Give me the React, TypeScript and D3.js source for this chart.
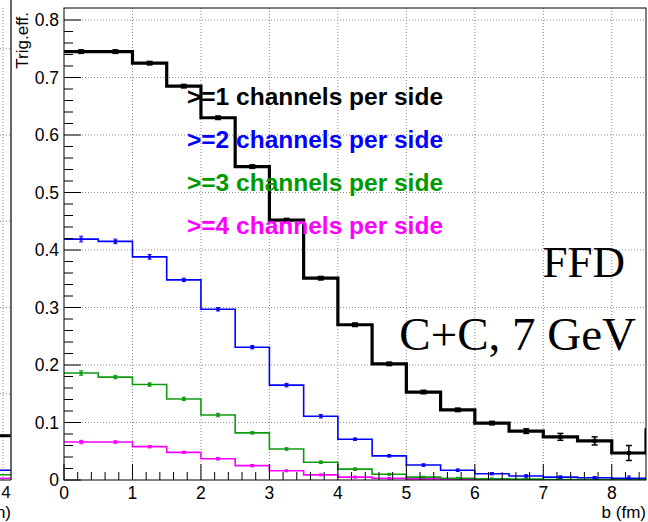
import React from 'react';
import * as d3 from 'd3';

// bin edges in b (fm), 0.5 fm bins
const binEdges = [0, 0.5, 1, 1.5, 2, 2.5, 3, 3.5, 4, 4.5, 5, 5.5, 6, 6.5, 7, 7.5, 8, 8.5];

// trigger efficiency per bin
const eff1 = [0.745, 0.745, 0.725, 0.685, 0.63, 0.545, 0.452, 0.351, 0.27, 0.202, 0.153, 0.122, 0.099, 0.085, 0.075, 0.068, 0.047];
const err1 = [0.003, 0.003, 0.003, 0.003, 0.003, 0.003, 0.003, 0.003, 0.003, 0.003, 0.003, 0.003, 0.003, 0.004, 0.006, 0.007, 0.013];
const eff2 = [0.419, 0.415, 0.388, 0.348, 0.297, 0.231, 0.165, 0.111, 0.071, 0.042, 0.026, 0.017, 0.011, 0.007, 0.005, 0.004, 0.003];
const err2 = [0.005, 0.004, 0.004, 0.003, 0.003, 0.003, 0.003, 0.003, 0.002, 0.002, 0.002, 0.002, 0.002, 0.002, 0.002, 0.002, 0.004];
const eff3 = [0.186, 0.179, 0.166, 0.141, 0.113, 0.082, 0.054, 0.031, 0.019, 0.01, 0.005, 0.003, 0.002, 0.0015, 0.001, 0.001, 0.001];
const err3 = [0.004, 0.003, 0.003, 0.003, 0.003, 0.002, 0.002, 0.002, 0.002, 0.001, 0.001, 0.001, 0.001, 0.001, 0.001, 0.001, 0.001];
const eff4 = [0.066, 0.066, 0.058, 0.048, 0.037, 0.025, 0.016, 0.009, 0.005, 0.003, 0.002, 0.001, 0.001, 0.0005, 0.0005, 0.0003, 0.0003];
const err4 = [0.003, 0.002, 0.002, 0.002, 0.002, 0.002, 0.001, 0.001, 0.001, 0.001, 0.001, 0.001, 0.001, 0.001, 0.001, 0.001, 0.002];
// value of the bin past the frame (only its rising edge shows)
const tail1 = 0.09;

const legendLabels = ['>=1 channels per side', '>=2 channels per side', '>=3 channels per side', '>=4 channels per side'];
const xTicks = [0, 1, 2, 3, 4, 5, 6, 7, 8];
const yTicks = [0, 0.1, 0.2, 0.3, 0.4, 0.5, 0.6, 0.7, 0.8];

// bits of the neighbouring panel, cut off at the left edge
const leftGrid = [0.15, 0.3, 0.45, 0.6, 0.75];
const leftLevels = [0.077, 0.017, 0.009, 0.003];

const W = 648;
const H = 522;
const left = 64, right = 646, top = 8, bottom = 480;
const sans = 'Liberation Sans, Arial, Helvetica, sans-serif';
const serif = 'Liberation Serif, Times New Roman, serif';

const x = d3.scaleLinear().domain([0, 8.5]).range([left, right]);
const y = d3.scaleLinear().domain([0, 0.8209]).range([bottom, top]);

const series = [
  { vals: eff1, errs: err1, tail: tail1, color: '#000000', width: 3.2, mark: 4 },
  { vals: eff2, errs: err2, tail: eff2[eff2.length - 1], color: '#0000ff', width: 1.6, mark: 3 },
  { vals: eff3, errs: err3, tail: eff3[eff3.length - 1], color: '#109a10', width: 1.6, mark: 3 },
  { vals: eff4, errs: err4, tail: eff4[eff4.length - 1], color: '#ff00ff', width: 1.6, mark: 3 },
];
const textColors = ['#000000', '#0000ff', '#009900', '#ff00ff'];

const stepLine = d3.line<[number, number]>()
  .x(d => x(d[0]))
  .y(d => y(d[1]))
  .curve(d3.curveStepAfter);

export default function App() {
  const minorX = d3.range(0, 8.5001, 0.2).filter(v => Math.abs(v - Math.round(v)) > 1e-6);
  const minorY = d3.range(0, 0.82, 0.02).filter(v => Math.abs(v * 10 - Math.round(v * 10)) > 1e-6);
  const grid = { stroke: '#8c8c8c', strokeWidth: 1, strokeDasharray: '1,2' };

  return (
    <svg width={W} height={H} style={{ position: 'absolute', left: 0, top: 0, background: '#fff' }}>
      <defs>
        <clipPath id="frame">
          <rect x={left} y={top} width={right - left} height={bottom - top} />
        </clipPath>
      </defs>

      {/* neighbouring panel fragment */}
      <g>
        <line x1={3} x2={3} y1={top} y2={bottom} {...grid} />
        {leftGrid.map(v => (
          <line key={v} x1={0} x2={11} y1={y(v)} y2={y(v)} {...grid} />
        ))}
        {leftLevels.map((v, i) => (
          <line key={i} x1={0} x2={11} y1={y(v)} y2={y(v)}
            stroke={series[i].color} strokeWidth={i === 0 ? 3 : 1.5} />
        ))}
        <line x1={11} x2={11} y1={0} y2={bottom} stroke="#333" strokeWidth={1.5} />
        <line x1={0} x2={11} y1={bottom} y2={bottom} stroke="#000" />
        <text x={6} y={498} textAnchor="middle" fontFamily={sans} fontSize={17}>4</text>
        <text x={11} y={518} textAnchor="end" fontFamily={sans} fontSize={17}>b (fm)</text>
      </g>

      {/* grid */}
      {xTicks.filter(t => t > 0).map(t => (
        <line key={'gx' + t} x1={x(t)} x2={x(t)} y1={top} y2={bottom} {...grid} />
      ))}
      {yTicks.filter(t => t > 0).map(t => (
        <line key={'gy' + t} x1={left} x2={right} y1={y(t)} y2={y(t)} {...grid} />
      ))}

      {/* histograms */}
      <g clipPath="url(#frame)">
        {series.slice().reverse().map((s, k) => {
          const pts: [number, number][] = s.vals.map((v, i) => [binEdges[i], v] as [number, number]);
          pts.push([binEdges[binEdges.length - 1], s.tail]);
          return (
            <g key={k}>
              <path d={stepLine(pts) || ''} fill="none" stroke={s.color} strokeWidth={s.width} />
              {s.vals.map((v, i) => {
                const cx = x((binEdges[i] + binEdges[i + 1]) / 2);
                const y0 = y(v - s.errs[i]);
                const y1 = y(v + s.errs[i]);
                const cap = s.mark === 4 ? 3 : 2;
                return (
                  <g key={i} stroke={s.color} strokeWidth={s.mark === 4 ? 1.5 : 1}>
                    <line x1={cx} x2={cx} y1={y0} y2={y1} />
                    <line x1={cx - cap} x2={cx + cap} y1={y0} y2={y0} />
                    <line x1={cx - cap} x2={cx + cap} y1={y1} y2={y1} />
                    <rect x={cx - s.mark / 2} y={y(v) - s.mark / 2} width={s.mark} height={s.mark}
                      fill={s.color} stroke="none" />
                  </g>
                );
              })}
            </g>
          );
        })}
      </g>

      {/* frame */}
      <rect x={left} y={top} width={right - left} height={bottom - top} fill="none" stroke="#000" strokeWidth={1} />

      {/* x axis ticks */}
      {xTicks.map(t => (
        <line key={'tx' + t} x1={x(t)} x2={x(t)} y1={bottom} y2={bottom - 16} stroke="#000" />
      ))}
      {minorX.map(t => (
        <line key={'mx' + t} x1={x(t)} x2={x(t)} y1={bottom} y2={bottom - 8} stroke="#000" />
      ))}
      {xTicks.map(t => (
        <text key={'lx' + t} x={x(t)} y={499} textAnchor="middle" fontFamily={sans} fontSize={17.5}>{t}</text>
      ))}
      <text x={right} y={518} textAnchor="end" fontFamily={sans} fontSize={17}>b (fm)</text>

      {/* y axis ticks */}
      {yTicks.map(t => (
        <line key={'ty' + t} x1={left} x2={left + 17} y1={y(t)} y2={y(t)} stroke="#000" />
      ))}
      {minorY.map(t => (
        <line key={'my' + t} x1={left} x2={left + 9} y1={y(t)} y2={y(t)} stroke="#000" />
      ))}
      {yTicks.map(t => (
        <text key={'ly' + t} x={59} y={y(t)} dy="0.35em" textAnchor="end" fontFamily={sans} fontSize={17.5}>
          {t === 0 ? '0' : d3.format('.1f')(t)}
        </text>
      ))}
      <text transform="translate(28,12) rotate(-90)" textAnchor="end" fontFamily={sans} fontSize={17}>Trig.eff.</text>

      {/* legend */}
      {legendLabels.map((l, i) => (
        <text key={l} x={187} y={105 + i * 43} fontFamily={sans} fontWeight="bold" fontSize={24.5}
          fill={textColors[i]}>{l}</text>
      ))}

      <text x={625} y={277} textAnchor="end" fontFamily={serif} fontSize={45}>FFD</text>
      <text x={636} y={350} textAnchor="end" fontFamily={serif} fontSize={47}>C+C, 7 GeV</text>
    </svg>
  );
}
